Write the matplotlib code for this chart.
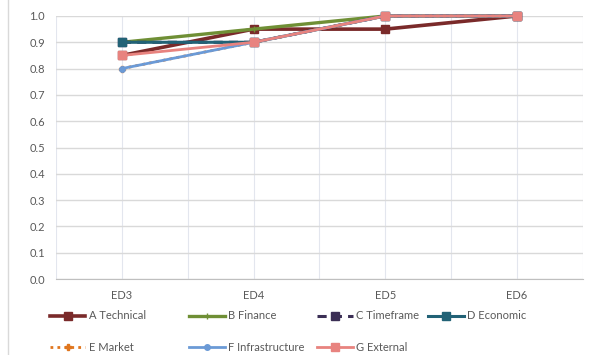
import numpy as np
import matplotlib.pyplot as plt
from matplotlib.lines import Line2D

plt.rcParams["font.family"] = ["Lato", "DejaVu Sans"]

stages = ["ED3", "ED4", "ED5", "ED6"]
a_technical = [0.85, 0.95, 0.95, 1.0]
b_finance = [0.90, 0.95, 1.0, 1.0]
c_timeframe = [0.90, 0.90, 1.0, 1.0]
d_economic = [0.90, 0.90, 1.0, 1.0]
e_market = [0.80, 0.90, 1.0, 1.0]
f_infrastructure = [0.80, 0.90, 1.0, 1.0]
g_external = [0.85, 0.90, 1.0, 1.0]

# label, values, colour, linestyle, marker, linewidth, markersize
series = [
    ("A Technical", a_technical, "#7a2a2a", "-", "s", 2.6, 6),
    ("B Finance", b_finance, "#6f8f35", "-", "+", 2.4, 5),
    ("C Timeframe", c_timeframe, "#3b2f55", (0, (3, 2)), "s", 2.2, 6),
    ("D Economic", d_economic, "#226276", "-", "s", 2.2, 6),
    ("E Market", e_market, "#e0761e", (0, (1, 1.5)), "P", 2.0, 5),
    ("F Infrastructure", f_infrastructure, "#6b9ad6", "-", "o", 2.0, 4),
    ("G External", g_external, "#e8837f", "-", "s", 2.0, 6),
]

fig = plt.figure(figsize=(6.16, 3.55), dpi=100)
ax = fig.add_axes([0.091, 0.214, 0.855, 0.741])

x = np.arange(len(stages))
handles = []
for label, vals, color, ls, mk, lw, ms in series:
    ax.plot(x, vals, color=color, ls=ls, lw=lw, marker=mk, ms=ms,
            markeredgecolor=color, zorder=3, clip_on=False)
    handles.append(Line2D([], [], color=color, ls=ls, lw=lw, marker=mk,
                          ms=ms, markeredgecolor=color, label=label))

ax.set_xlim(-0.5, len(stages) - 0.5)
ax.set_ylim(0, 1.0)
ax.set_yticks(np.arange(0, 1.01, 0.1))
ax.set_yticklabels([f"{v:.1f}" for v in np.arange(0, 1.01, 0.1)])
ax.set_xticks(x)
ax.set_xticklabels(stages)
ax.set_xticks(np.arange(-0.5, len(stages), 1.0), minor=True)

ax.grid(True, axis="y", color="#d9d9d9", lw=1.0)
ax.grid(True, axis="x", which="both", color="#e3e6ee", lw=0.8)
ax.set_axisbelow(True)
for side in ["top", "right", "left"]:
    ax.spines[side].set_visible(False)
ax.spines["bottom"].set_color("#bfbfbf")
ax.tick_params(length=0, labelsize=8, colors="#595959", pad=8)
ax.tick_params(which="minor", length=0)

# legend entries laid out in two rows below the axes
slots = [(0.072, 0.11), (0.298, 0.11), (0.506, 0.11), (0.686, 0.11),
         (0.072, 0.022), (0.298, 0.022), (0.506, 0.022)]
for h, (lx, ly) in zip(handles, slots):
    fig.legend(handles=[h], loc="center left", bbox_to_anchor=(lx, ly),
               frameon=False, fontsize=8, handlelength=3.2,
               handletextpad=0.3, borderpad=0, labelcolor="#595959")

# thin chart border on the left edge
fig.add_artist(Line2D([0.013, 0.013], [0, 1], color="#d9d9d9", lw=1))

fig.savefig("out.png", dpi=100)
